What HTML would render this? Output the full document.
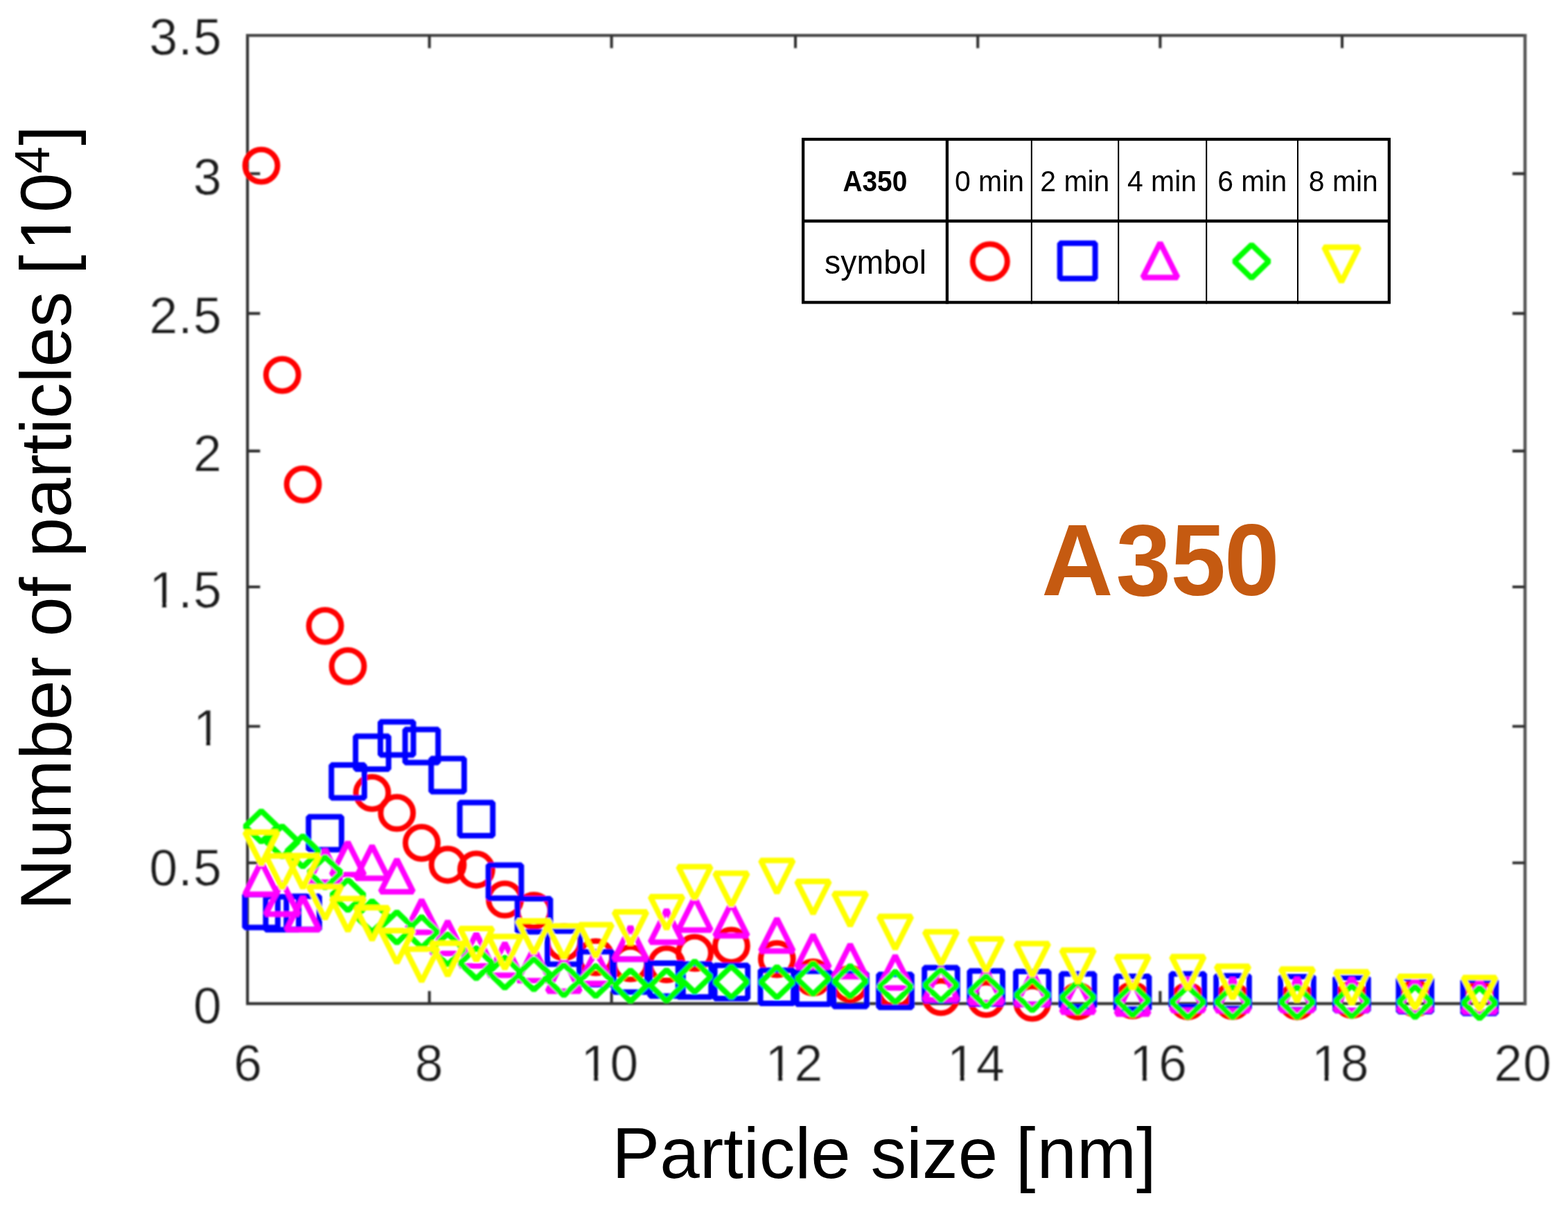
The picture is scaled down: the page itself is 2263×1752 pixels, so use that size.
<!DOCTYPE html>
<html lang="en"><head><meta charset="utf-8"><title>A350 particle size distribution</title>
<style>
html,body{margin:0;padding:0;background:#fff;}
body{width:2263px;height:1752px;overflow:hidden;}
svg{display:block;}
text{font-family:"Liberation Sans",sans-serif;}
.tick{font-size:73.2px;fill:#1a1a1a;stroke:#fff;stroke-width:0.25px;}
.lab{font-size:103.3px;fill:#000;}
.mk{fill:none;stroke-width:8.0;stroke-linejoin:bevel;}
.ax{stroke:#303030;stroke-width:4.1;fill:none;}
.tb{stroke:#000;fill:none;}
.cell{font-size:42px;fill:#000;}
</style></head><body>
<svg width="2263" height="1752" viewBox="0 0 2263 1752">
<defs><filter id="soft" x="-2%" y="-2%" width="104%" height="104%"><feGaussianBlur stdDeviation="0.85"/></filter><filter id="soft2" x="-20%" y="-20%" width="140%" height="140%"><feGaussianBlur stdDeviation="0.9"/></filter></defs>
<rect width="2263" height="1752" fill="#fff"/>
<g filter="url(#soft)">
<path class="ax" stroke-linecap="square" d="M357.2 51.2V1448.4H2201"/>
<path class="ax" stroke-linecap="square" style="stroke:#454545;stroke-width:4.3" d="M357.2 51.2H2201"/>
<path class="ax" stroke-linecap="square" style="stroke:#555;stroke-width:4.6" d="M2201 51.2V1448.4"/>
<path class="ax" d="M619.7 1448.4v-18.2M619.7 51.2v18.2M882.6 1448.4v-18.2M882.6 51.2v18.2M1148 1448.4v-18.2M1148 51.2v18.2M1411.2 1448.4v-18.2M1411.2 51.2v18.2M1674.4 1448.4v-18.2M1674.4 51.2v18.2M1937 1448.4v-18.2M1937 51.2v18.2M357.2 1245.3h18.2M2201 1245.3h-18.2M357.2 1048.3h18.2M2201 1048.3h-18.2M357.2 847h18.2M2201 847h-18.2M357.2 650.9h18.2M2201 650.9h-18.2M357.2 452.4h18.2M2201 452.4h-18.2M357.2 250.6h18.2M2201 250.6h-18.2"/>
<g class="tick">
<text x="337.24" y="1560.2">6</text>
<text x="598.74" y="1560.2">8</text>
<text x="838.49 880.4" y="1560.2">10</text>
<text x="1104.49 1146.4" y="1560.2">12</text>
<text x="1367.09 1409" y="1560.2">14</text>
<text x="1630.29 1672.2" y="1560.2">16</text>
<text x="1892.89 1934.8" y="1560.2">18</text>
<text x="2156.29 2198.2" y="1560.2">20</text>
<text x="278.89" y="1477.3">0</text>
<text x="215.44 257.35 278.89" y="1278.1">0.5</text>
<text x="278.89" y="1076.2">1</text>
<text x="215.44 257.35 278.89" y="877.4">1.5</text>
<text x="278.89" y="680">2</text>
<text x="215.44 257.35 278.89" y="480.5">2.5</text>
<text x="278.89" y="280.5">3</text>
<text x="215.44 257.35 278.89" y="79.1">3.5</text>
</g>
<g fill="#fff"><rect x="842.47" y="1553.33" width="14.28" height="8.47"/><rect x="863.52" y="1553.33" width="13.86" height="8.47"/><rect x="1108.47" y="1553.33" width="14.28" height="8.47"/><rect x="1129.52" y="1553.33" width="13.86" height="8.47"/><rect x="1371.07" y="1553.33" width="14.28" height="8.47"/><rect x="1392.12" y="1553.33" width="13.86" height="8.47"/><rect x="1634.27" y="1553.33" width="14.28" height="8.47"/><rect x="1655.32" y="1553.33" width="13.86" height="8.47"/><rect x="1896.87" y="1553.33" width="14.28" height="8.47"/><rect x="1917.92" y="1553.33" width="13.86" height="8.47"/><rect x="282.87" y="1069.33" width="14.28" height="8.47"/><rect x="303.92" y="1069.33" width="13.86" height="8.47"/><rect x="219.42" y="870.53" width="14.28" height="8.47"/><rect x="240.47" y="870.53" width="13.86" height="8.47"/></g>
<g class="mk" stroke="#ff0000">
<circle cx="377.1" cy="239.1" r="23.4"/><circle cx="407.3" cy="541.1" r="23.4"/><circle cx="437.1" cy="699.1" r="23.4"/><circle cx="469.1" cy="903.3" r="23.4"/><circle cx="502.1" cy="961.4" r="23.4"/><circle cx="537" cy="1144.3" r="23.4"/><circle cx="572.8" cy="1173.2" r="23.4"/><circle cx="608.5" cy="1216.4" r="23.4"/><circle cx="646.1" cy="1248" r="23.4"/><circle cx="687.4" cy="1255" r="23.4"/><circle cx="728.6" cy="1298.2" r="23.4"/><circle cx="770.5" cy="1314.4" r="23.4"/><circle cx="813.8" cy="1359.6" r="23.4"/><circle cx="859.8" cy="1381.3" r="23.4"/><circle cx="909.9" cy="1390.2" r="23.4"/><circle cx="962" cy="1391.7" r="23.4"/><circle cx="1002.5" cy="1375.2" r="23.4"/><circle cx="1055.4" cy="1364.9" r="23.4"/><circle cx="1121.3" cy="1384.1" r="23.4"/><circle cx="1173.5" cy="1410.7" r="23.4"/><circle cx="1227" cy="1420" r="23.4"/><circle cx="1292" cy="1429" r="23.4"/><circle cx="1358" cy="1438.9" r="23.4"/><circle cx="1423.2" cy="1441.6" r="23.4"/><circle cx="1489.8" cy="1447.1" r="23.4"/><circle cx="1555.6" cy="1445" r="23.4"/><circle cx="1634.6" cy="1443.7" r="23.4"/><circle cx="1714.3" cy="1445" r="23.4"/><circle cx="1779" cy="1444.7" r="23.4"/><circle cx="1872" cy="1445" r="23.4"/><circle cx="1950.9" cy="1443" r="23.4"/><circle cx="2042.3" cy="1441" r="23.4"/><circle cx="2135.3" cy="1441" r="23.4"/>
</g>
<g class="mk" stroke="#0000ff">
<rect x="353.3" y="1290.9" width="47.6" height="47.6"/><rect x="383.5" y="1294.2" width="47.6" height="47.6"/><rect x="413.3" y="1293.6" width="47.6" height="47.6"/><rect x="445.3" y="1178.7" width="47.6" height="47.6"/><rect x="478.3" y="1104" width="47.6" height="47.6"/><rect x="513.2" y="1062.4" width="47.6" height="47.6"/><rect x="549" y="1041.8" width="47.6" height="47.6"/><rect x="584.7" y="1052.8" width="47.6" height="47.6"/><rect x="622.3" y="1094.8" width="47.6" height="47.6"/><rect x="663.6" y="1158.3" width="47.6" height="47.6"/><rect x="704.8" y="1248.6" width="47.6" height="47.6"/><rect x="746.7" y="1297.1" width="47.6" height="47.6"/><rect x="790" y="1343.8" width="47.6" height="47.6"/><rect x="836" y="1373.4" width="47.6" height="47.6"/><rect x="886.1" y="1384.2" width="47.6" height="47.6"/><rect x="938.2" y="1390" width="47.6" height="47.6"/><rect x="978.7" y="1391.2" width="47.6" height="47.6"/><rect x="1031.6" y="1393.3" width="47.6" height="47.6"/><rect x="1097.5" y="1400.3" width="47.6" height="47.6"/><rect x="1149.7" y="1401.7" width="47.6" height="47.6"/><rect x="1203.2" y="1404.8" width="47.6" height="47.6"/><rect x="1268.2" y="1406.2" width="47.6" height="47.6"/><rect x="1334.2" y="1396.5" width="47.6" height="47.6"/><rect x="1399.4" y="1401.3" width="47.6" height="47.6"/><rect x="1466" y="1402" width="47.6" height="47.6"/><rect x="1531.8" y="1405.5" width="47.6" height="47.6"/><rect x="1610.8" y="1408.9" width="47.6" height="47.6"/><rect x="1690.5" y="1405.5" width="47.6" height="47.6"/><rect x="1755.2" y="1408.2" width="47.6" height="47.6"/><rect x="1848.2" y="1409.6" width="47.6" height="47.6"/><rect x="1927.1" y="1411" width="47.6" height="47.6"/><rect x="2018.5" y="1412.3" width="47.6" height="47.6"/><rect x="2111.5" y="1414.8" width="47.6" height="47.6"/>
</g>
<g class="mk" stroke="#ff00ff">
<path d="M377.1 1243.6L400.6 1290.4L353.6 1290.4Z"/><path d="M407.3 1272.4L430.8 1319.2L383.8 1319.2Z"/><path d="M437.1 1294.9L460.6 1341.7L413.6 1341.7Z"/><path d="M469.1 1226.1L492.6 1272.9L445.6 1272.9Z"/><path d="M502.1 1215.4L525.6 1262.2L478.6 1262.2Z"/><path d="M537 1220.6L560.5 1267.4L513.5 1267.4Z"/><path d="M572.8 1240.1L596.3 1286.9L549.3 1286.9Z"/><path d="M608.5 1298.6L632 1345.4L585 1345.4Z"/><path d="M646.1 1329.2L669.6 1376L622.6 1376Z"/><path d="M687.4 1347.1L710.9 1393.9L663.9 1393.9Z"/><path d="M728.6 1360.8L752.1 1407.6L705.1 1407.6Z"/><path d="M770.5 1368.4L794 1415.2L747 1415.2Z"/><path d="M813.8 1383.8L837.3 1430.6L790.3 1430.6Z"/><path d="M859.8 1372.4L883.3 1419.2L836.3 1419.2Z"/><path d="M909.9 1337.4L933.4 1384.2L886.4 1384.2Z"/><path d="M962 1312.9L985.5 1359.7L938.5 1359.7Z"/><path d="M1002.5 1295.4L1026 1342.2L979 1342.2Z"/><path d="M1055.4 1303.6L1078.9 1350.4L1031.9 1350.4Z"/><path d="M1121.3 1325.6L1144.8 1372.4L1097.8 1372.4Z"/><path d="M1173.5 1349L1197 1395.8L1150 1395.8Z"/><path d="M1227 1362.7L1250.5 1409.5L1203.5 1409.5Z"/><path d="M1292 1379L1315.5 1425.8L1268.5 1425.8Z"/><path d="M1358 1396L1381.5 1442.8L1334.5 1442.8Z"/><path d="M1423.2 1400.1L1446.7 1446.9L1399.7 1446.9Z"/><path d="M1489.8 1402.6L1513.3 1449.4L1466.3 1449.4Z"/><path d="M1555.6 1413.9L1579.1 1460.7L1532.1 1460.7Z"/><path d="M1634.6 1416.6L1658.1 1463.4L1611.1 1463.4Z"/><path d="M1714.3 1411.4L1737.8 1458.2L1690.8 1458.2Z"/><path d="M1779 1411.9L1802.5 1458.7L1755.5 1458.7Z"/><path d="M1872 1411.4L1895.5 1458.2L1848.5 1458.2Z"/><path d="M1950.9 1411.4L1974.4 1458.2L1927.4 1458.2Z"/><path d="M2042.3 1411.4L2065.8 1458.2L2018.8 1458.2Z"/><path d="M2135.3 1413.4L2158.8 1460.2L2111.8 1460.2Z"/>
</g>
<g class="mk" stroke="#00ff00">
<path d="M377.1 1170.2L400.4 1192.7L377.1 1215.2L353.8 1192.7Z"/><path d="M407.3 1191.8L430.6 1214.3L407.3 1236.8L384 1214.3Z"/><path d="M437.1 1206.2L460.4 1228.7L437.1 1251.2L413.8 1228.7Z"/><path d="M469.1 1236.5L492.4 1259L469.1 1281.5L445.8 1259Z"/><path d="M502.1 1269.1L525.4 1291.6L502.1 1314.1L478.8 1291.6Z"/><path d="M537 1300L560.3 1322.5L537 1345L513.7 1322.5Z"/><path d="M572.8 1315.8L596.1 1338.3L572.8 1360.8L549.5 1338.3Z"/><path d="M608.5 1322.7L631.8 1345.2L608.5 1367.7L585.2 1345.2Z"/><path d="M646.1 1347.5L669.4 1370L646.1 1392.5L622.8 1370Z"/><path d="M687.4 1367.5L710.7 1390L687.4 1412.5L664.1 1390Z"/><path d="M728.6 1381.2L751.9 1403.7L728.6 1426.2L705.3 1403.7Z"/><path d="M770.5 1383.5L793.8 1406L770.5 1428.5L747.2 1406Z"/><path d="M813.8 1391.8L837.1 1414.3L813.8 1436.8L790.5 1414.3Z"/><path d="M859.8 1393.1L883.1 1415.6L859.8 1438.1L836.5 1415.6Z"/><path d="M909.9 1400L933.2 1422.5L909.9 1445L886.6 1422.5Z"/><path d="M962 1399.7L985.3 1422.2L962 1444.7L938.7 1422.2Z"/><path d="M1002.5 1386.8L1025.8 1409.3L1002.5 1431.8L979.2 1409.3Z"/><path d="M1055.4 1394.6L1078.7 1417.1L1055.4 1439.6L1032.1 1417.1Z"/><path d="M1121.3 1394.9L1144.6 1417.4L1121.3 1439.9L1098 1417.4Z"/><path d="M1173.5 1389.8L1196.8 1412.3L1173.5 1434.8L1150.2 1412.3Z"/><path d="M1227 1393.5L1250.3 1416L1227 1438.5L1203.7 1416Z"/><path d="M1292 1401.7L1315.3 1424.2L1292 1446.7L1268.7 1424.2Z"/><path d="M1358 1399.2L1381.3 1421.7L1358 1444.2L1334.7 1421.7Z"/><path d="M1423.2 1408.1L1446.5 1430.6L1423.2 1453.1L1399.9 1430.6Z"/><path d="M1489.8 1413.6L1513.1 1436.1L1489.8 1458.6L1466.5 1436.1Z"/><path d="M1555.6 1416.8L1578.9 1439.3L1555.6 1461.8L1532.3 1439.3Z"/><path d="M1634.6 1420.9L1657.9 1443.4L1634.6 1465.9L1611.3 1443.4Z"/><path d="M1714.3 1423.7L1737.6 1446.2L1714.3 1468.7L1691 1446.2Z"/><path d="M1779 1423.5L1802.3 1446L1779 1468.5L1755.7 1446Z"/><path d="M1872 1423.7L1895.3 1446.2L1872 1468.7L1848.7 1446.2Z"/><path d="M1950.9 1422.3L1974.2 1444.8L1950.9 1467.3L1927.6 1444.8Z"/><path d="M2042.3 1423.5L2065.6 1446L2042.3 1468.5L2019 1446Z"/><path d="M2135.3 1425L2158.6 1447.5L2135.3 1470L2112 1447.5Z"/>
</g>
<g class="mk" stroke="#ffff00">
<path d="M377.1 1247.9L400.6 1201.1L353.6 1201.1Z"/><path d="M407.3 1282.1L430.8 1235.3L383.8 1235.3Z"/><path d="M437.1 1281.6L460.6 1234.8L413.6 1234.8Z"/><path d="M469.1 1326.2L492.6 1279.4L445.6 1279.4Z"/><path d="M502.1 1343.6L525.6 1296.8L478.6 1296.8Z"/><path d="M537 1356.8L560.5 1310L513.5 1310Z"/><path d="M572.8 1389.8L596.3 1343L549.3 1343Z"/><path d="M608.5 1416.5L632 1369.7L585 1369.7Z"/><path d="M646.1 1408.1L669.6 1361.3L622.6 1361.3Z"/><path d="M687.4 1386.7L710.9 1339.9L663.9 1339.9Z"/><path d="M728.6 1398.3L752.1 1351.5L705.1 1351.5Z"/><path d="M770.5 1375.7L794 1328.9L747 1328.9Z"/><path d="M813.8 1383.1L837.3 1336.3L790.3 1336.3Z"/><path d="M859.8 1381.2L883.3 1334.4L836.3 1334.4Z"/><path d="M909.9 1362.9L933.4 1316.1L886.4 1316.1Z"/><path d="M962 1340.8L985.5 1294L938.5 1294Z"/><path d="M1002.5 1297.5L1026 1250.7L979 1250.7Z"/><path d="M1055.4 1307.1L1078.9 1260.3L1031.9 1260.3Z"/><path d="M1121.3 1288.6L1144.8 1241.8L1097.8 1241.8Z"/><path d="M1173.5 1318.8L1197 1272L1150 1272Z"/><path d="M1227 1336.3L1250.5 1289.5L1203.5 1289.5Z"/><path d="M1292 1369.4L1315.5 1322.6L1268.5 1322.6Z"/><path d="M1358 1391.6L1381.5 1344.8L1334.5 1344.8Z"/><path d="M1423.2 1401.7L1446.7 1354.9L1399.7 1354.9Z"/><path d="M1489.8 1408.5L1513.3 1361.7L1466.3 1361.7Z"/><path d="M1555.6 1418.1L1579.1 1371.3L1532.1 1371.3Z"/><path d="M1634.6 1427.4L1658.1 1380.6L1611.1 1380.6Z"/><path d="M1714.3 1427.4L1737.8 1380.6L1690.8 1380.6Z"/><path d="M1779 1441.3L1802.5 1394.5L1755.5 1394.5Z"/><path d="M1872 1445.2L1895.5 1398.4L1848.5 1398.4Z"/><path d="M1950.9 1449.3L1974.4 1402.5L1927.4 1402.5Z"/><path d="M2042.3 1455.9L2065.8 1409.1L2018.8 1409.1Z"/><path d="M2135.3 1457.6L2158.8 1410.8L2111.8 1410.8Z"/>
</g>
</g>
<text class="lab" x="883.3" y="1700.2">Particle size <tspan dx="-3">[</tspan><tspan dx="2">nm]</tspan></text>
<g transform="translate(101.9 1313.8) rotate(-90)">
<text class="lab" style="font-size:103px" x="0" y="0">Number of particles <tspan x="917.6">[</tspan><tspan x="951.9">1</tspan><tspan x="1007">0</tspan><tspan x="1063.5" dy="-31.1" font-size="70">4</tspan><tspan x="1104.1" dy="31.1">]</tspan></text>
<g fill="#fff"><rect x="958.15" y="-9.09" width="19.51" height="10.69"/><rect x="987.05" y="-9.09" width="18.85" height="10.69"/></g>
</g>
<text transform="translate(0 858.7) scale(1 1.02)" x="1503.2 1610.4 1689.5 1767" y="0" font-size="143" font-weight="bold" fill="#c55a11">A350</text>
<rect x="1157" y="199" width="850" height="239.5" fill="#fff"/>
<g class="tb">
<rect x="1159.1" y="201" width="845.8" height="235.4" stroke-width="4.3"/>
<path d="M1157 319H2007M1366.9 199V438.5" stroke-width="4.3"/>
<path d="M1488.8 199V438.5M1614.2 199V438.5M1741.2 199V438.5M1873 199V438.5" stroke-width="2"/>
</g>
<text x="1262.9" y="276.2" text-anchor="middle" font-size="43" font-weight="bold" textLength="93" lengthAdjust="spacingAndGlyphs">A350</text>
<text class="cell" x="1428" y="276.2" text-anchor="middle" textLength="100" lengthAdjust="spacingAndGlyphs">0 min</text>
<text class="cell" x="1551.3" y="276.2" text-anchor="middle" textLength="100" lengthAdjust="spacingAndGlyphs">2 min</text>
<text class="cell" x="1677" y="276.2" text-anchor="middle" textLength="100" lengthAdjust="spacingAndGlyphs">4 min</text>
<text class="cell" x="1807.2" y="276.2" text-anchor="middle" textLength="100" lengthAdjust="spacingAndGlyphs">6 min</text>
<text class="cell" x="1938.8" y="276.2" text-anchor="middle" textLength="100" lengthAdjust="spacingAndGlyphs">8 min</text>
<text x="1263.6" y="394.8" text-anchor="middle" font-size="49" textLength="147" lengthAdjust="spacingAndGlyphs">symbol</text>
<g class="mk" filter="url(#soft2)" stroke-width="8.6">
<g stroke="#ff0000"><circle cx="1428.8" cy="377.2" r="25"/></g>
<g stroke="#0000ff"><rect x="1529.7" y="351.1" width="50.9" height="50.9"/></g>
<g stroke="#ff00ff"><path d="M1674.4 350.3L1699.5 400.4L1649.3 400.4Z"/></g>
<g stroke="#00ff00"><path d="M1806.4 353.1L1831.3 377.2L1806.4 401.3L1781.5 377.2Z"/></g>
<g stroke="#ffff00"><path d="M1936 406.9L1961.1 356.8L1910.9 356.8Z"/></g>
</g>
</svg></body></html>
